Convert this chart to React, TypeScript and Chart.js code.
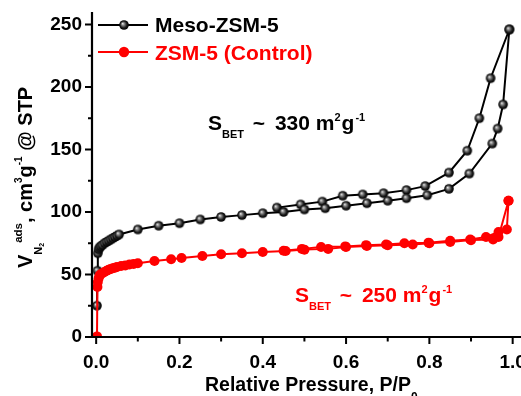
import React, { useEffect, useRef } from 'react';
import { Chart, registerables } from 'chart.js';

Chart.register(...registerables);

// ---- data ----
const seriesNames = ['Meso-ZSM-5', 'ZSM-5 (Control)'];

const mesoAdsP = [0.002, 0.003, 0.004, 0.006, 0.008, 0.011, 0.015, 0.02, 0.025, 0.03, 0.035, 0.04, 0.045, 0.05, 0.055, 0.1, 0.15, 0.2, 0.25, 0.3, 0.35, 0.4, 0.45, 0.5, 0.55, 0.6, 0.65, 0.7, 0.745, 0.795, 0.847, 0.896, 0.951, 0.964, 0.977, 0.992];
const mesoAdsV = [25, 53, 67, 70, 71.5, 72.5, 73.5, 75, 76, 77, 78, 79, 80, 81, 82, 86, 89, 91, 94, 96, 97.5, 99, 100, 102, 103, 105, 107, 109, 111, 113.4, 118.5, 130.7, 154.7, 166.7, 186, 246];

const mesoDesP = [0.992, 0.947, 0.92, 0.891, 0.847, 0.79, 0.745, 0.69, 0.64, 0.592, 0.543, 0.491, 0.434];
const mesoDesV = [246, 207, 175, 149, 131.5, 120.7, 117.5, 115, 114, 113, 108.3, 106, 103.5];

const zsmAdsP = [0.002, 0.003, 0.004, 0.006, 0.008, 0.01, 0.015, 0.02, 0.025, 0.03, 0.035, 0.04, 0.045, 0.05, 0.06, 0.07, 0.08, 0.09, 0.1, 0.14, 0.18, 0.205, 0.255, 0.3, 0.35, 0.4, 0.455, 0.5, 0.557, 0.6, 0.65, 0.7, 0.76, 0.8, 0.85, 0.9, 0.953, 0.966, 0.99];
const zsmAdsV = [0.5, 40, 44, 47, 49, 50, 51, 52, 53, 53.8, 54.5, 55, 55.5, 56, 56.8, 57.3, 58, 58.5, 59, 60.8, 62.2, 63.2, 64.8, 66.2, 67, 68, 68.8, 69.9, 70.5, 72, 72.8, 73.4, 74, 75, 76, 77.5, 78, 80, 109];

const zsmDesP = [0.99, 0.986, 0.966, 0.936, 0.898, 0.85, 0.798, 0.74, 0.696, 0.648, 0.598, 0.54, 0.494, 0.45];
const zsmDesV = [109, 86, 84, 80, 78, 77, 75.5, 75, 74, 73.5, 72.5, 72, 70.5, 69];

const xTickValues = [0, 0.2, 0.4, 0.6, 0.8, 1.0];
const xMinorValues = [0.1, 0.3, 0.5, 0.7, 0.9];
const yTickValues = [0, 50, 100, 150, 200, 250];
const yMinorValues = [25, 75, 125, 175, 225];

const FONT = '"Liberation Sans", Arial, Helvetica, sans-serif';
const BLACK = '#000000';
const RED = '#ff0000';

type Seg = { t: string; size: number; dy?: number; dx?: number };

function drawRich(ctx: CanvasRenderingContext2D, segs: Seg[], x: number, y: number, color: string) {
  let cx = x;
  ctx.fillStyle = color;
  ctx.textAlign = 'left';
  ctx.textBaseline = 'alphabetic';
  for (const s of segs) {
    cx += s.dx || 0;
    ctx.font = `bold ${s.size}px ${FONT}`;
    ctx.fillText(s.t, cx, y + (s.dy || 0));
    cx += ctx.measureText(s.t).width;
  }
}

function makeSphere(r: number): HTMLCanvasElement {
  const s = Math.ceil(r * 2 + 2);
  const c = document.createElement('canvas');
  c.width = s;
  c.height = s;
  const ctx = c.getContext('2d')!;
  const cx = s / 2;
  const cy = s / 2;
  const g = ctx.createRadialGradient(cx - r * 0.3, cy - r * 0.3, 0, cx, cy, r);
  g.addColorStop(0, '#f2f2f2');
  g.addColorStop(0.3, '#8a8a8a');
  g.addColorStop(0.7, '#1a1a1a');
  g.addColorStop(1, '#000000');
  ctx.fillStyle = g;
  ctx.beginPath();
  ctx.arc(cx, cy, r, 0, Math.PI * 2);
  ctx.fill();
  return c;
}

const pts = (P: number[], V: number[]) => P.map((p, i) => ({ x: p, y: V[i] }));

export default function App() {
  const ref = useRef<HTMLCanvasElement | null>(null);

  useEffect(() => {
    const canvas = ref.current;
    if (!canvas) return;
    const sphere = makeSphere(4.8);
    const clip = { left: 8, top: 8, right: 8, bottom: 0 };

    const decor = {
      id: 'decor',
      afterDraw(chart: any) {
        const { ctx, chartArea: ca, scales } = chart;
        const xs = scales.x;
        const ys = scales.y;
        ctx.save();
        // axes
        ctx.strokeStyle = BLACK;
        ctx.lineWidth = 2.2;
        ctx.lineCap = 'butt';
        ctx.beginPath();
        ctx.moveTo(ca.left, ca.top);
        ctx.lineTo(ca.left, ca.bottom + 1.1);
        ctx.moveTo(ca.left - 1.1, ca.bottom);
        ctx.lineTo(ca.right, ca.bottom);
        ctx.stroke();
        ctx.lineWidth = 2;
        ctx.beginPath();
        for (const v of yTickValues) {
          const py = ys.getPixelForValue(v);
          ctx.moveTo(ca.left - 7, py);
          ctx.lineTo(ca.left, py);
        }
        for (const v of yMinorValues) {
          const py = ys.getPixelForValue(v);
          ctx.moveTo(ca.left - 4, py);
          ctx.lineTo(ca.left, py);
        }
        for (const v of xTickValues) {
          const px = xs.getPixelForValue(v);
          ctx.moveTo(px, ca.bottom);
          ctx.lineTo(px, ca.bottom + 7);
        }
        for (const v of xMinorValues) {
          const px = xs.getPixelForValue(v);
          ctx.moveTo(px, ca.bottom);
          ctx.lineTo(px, ca.bottom + 4.5);
        }
        ctx.stroke();

        // legend
        ctx.lineWidth = 2;
        ctx.strokeStyle = BLACK;
        ctx.beginPath();
        ctx.moveTo(98, 25);
        ctx.lineTo(148, 25);
        ctx.stroke();
        ctx.drawImage(sphere, 124 - sphere.width / 2, 25 - sphere.height / 2);
        ctx.strokeStyle = RED;
        ctx.beginPath();
        ctx.moveTo(98, 52);
        ctx.lineTo(148, 52);
        ctx.stroke();
        ctx.fillStyle = RED;
        ctx.beginPath();
        ctx.arc(124, 52, 5.2, 0, Math.PI * 2);
        ctx.fill();
        drawRich(ctx, [{ t: seriesNames[0], size: 21 }], 155, 32, BLACK);
        drawRich(ctx, [{ t: seriesNames[1], size: 21 }], 155, 59.5, RED);

        // annotations
        const sbet = (val: string): Seg[] => [
          { t: 'S', size: 21 },
          { t: 'BET', size: 11, dy: 8 },
          { t: ' ~ ', size: 21, dx: 3 },
          { t: val + ' m', size: 21, dx: 4 },
          { t: '2', size: 11, dy: -9 },
          { t: 'g', size: 21, dx: 1 },
          { t: '-1', size: 11, dy: -9, dx: 1 },
        ];
        drawRich(ctx, sbet('330'), 208, 130, BLACK);
        drawRich(ctx, sbet('250'), 295, 302, RED);

        // x title
        drawRich(ctx, [
          { t: 'Relative Pressure, P/P', size: 19.5 },
          { t: '0', size: 12, dy: 10 },
        ], 205, 390.6, BLACK);

        // y title (rotated)
        ctx.save();
        ctx.translate(32, 268);
        ctx.rotate(-Math.PI / 2);
        drawRich(ctx, [
          { t: 'V', size: 20 },
          { t: 'N', size: 11, dy: 10 },
          { t: '2', size: 7, dy: 12 },
          { t: 'ads', size: 11.5, dy: -10 },
          { t: ', cm', size: 20 },
          { t: '3', size: 10, dy: -10 },
          { t: 'g', size: 20 },
          { t: '-1', size: 10, dy: -10 },
          { t: ' @ STP', size: 20 },
        ], 0, 0, BLACK);
        ctx.restore();
        ctx.restore();
      },
    };

    const chart = new Chart(canvas, {
      type: 'scatter',
      data: {
        datasets: [
          {
            label: seriesNames[1] + ' ads',
            data: pts(zsmAdsP, zsmAdsV),
            showLine: true,
            borderColor: RED,
            backgroundColor: RED,
            borderWidth: 2,
            pointRadius: 5,
            pointBorderWidth: 0,
            pointStyle: 'circle',
            order: 0,
            clip,
          },
          {
            label: seriesNames[1] + ' des',
            data: pts(zsmDesP, zsmDesV),
            showLine: true,
            borderColor: RED,
            backgroundColor: RED,
            borderWidth: 2,
            pointRadius: 5,
            pointBorderWidth: 0,
            pointStyle: 'circle',
            order: 1,
            clip,
          },
          {
            label: seriesNames[0] + ' ads',
            data: pts(mesoAdsP, mesoAdsV),
            showLine: true,
            borderColor: BLACK,
            backgroundColor: BLACK,
            borderWidth: 2,
            pointRadius: 4.8,
            pointStyle: sphere,
            order: 2,
            clip,
          },
          {
            label: seriesNames[0] + ' des',
            data: pts(mesoDesP, mesoDesV),
            showLine: true,
            borderColor: BLACK,
            backgroundColor: BLACK,
            borderWidth: 2,
            pointRadius: 4.8,
            pointStyle: sphere,
            order: 3,
            clip,
          },
        ] as any,
      },
      options: {
        responsive: false,
        animation: false,
        events: [],
        layout: { padding: { top: 12, left: 0, right: 0, bottom: 0 }, autoPadding: false } as any,
        plugins: { legend: { display: false }, tooltip: { enabled: false } },
        scales: {
          x: {
            type: 'linear',
            min: -0.01,
            max: 1.02,
            grid: { display: false, drawTicks: false },
            border: { display: false },
            afterBuildTicks: (s: any) => {
              s.ticks = xTickValues.map((v) => ({ value: v }));
            },
            afterFit: (s: any) => {
              s.height = 59;
              s.paddingLeft = 0;
              s.paddingRight = 0;
            },
            ticks: {
              color: BLACK,
              padding: 14,
              maxRotation: 0,
              autoSkip: false,
              font: { family: FONT, size: 19, weight: 'bold' },
              callback: (v: any) => Number(v).toFixed(1),
            },
          },
          y: {
            type: 'linear',
            min: 0,
            max: 260,
            grid: { display: false, drawTicks: false },
            border: { display: false },
            afterBuildTicks: (s: any) => {
              s.ticks = yTickValues.map((v) => ({ value: v }));
            },
            afterFit: (s: any) => {
              s.width = 92;
              s.paddingTop = 0;
              s.paddingBottom = 0;
            },
            ticks: {
              color: BLACK,
              padding: 10,
              autoSkip: false,
              font: { family: FONT, size: 19, weight: 'bold' },
              callback: (v: any) => String(v),
            },
          },
        },
      } as any,
      plugins: [decor],
    });
    return () => chart.destroy();
  }, []);

  return (
    <div style={{ position: 'absolute', left: 0, top: 0, width: 521, height: 396, background: '#fff' }}>
      <canvas ref={ref} width={521} height={396} style={{ display: 'block' }} />
    </div>
  );
}
